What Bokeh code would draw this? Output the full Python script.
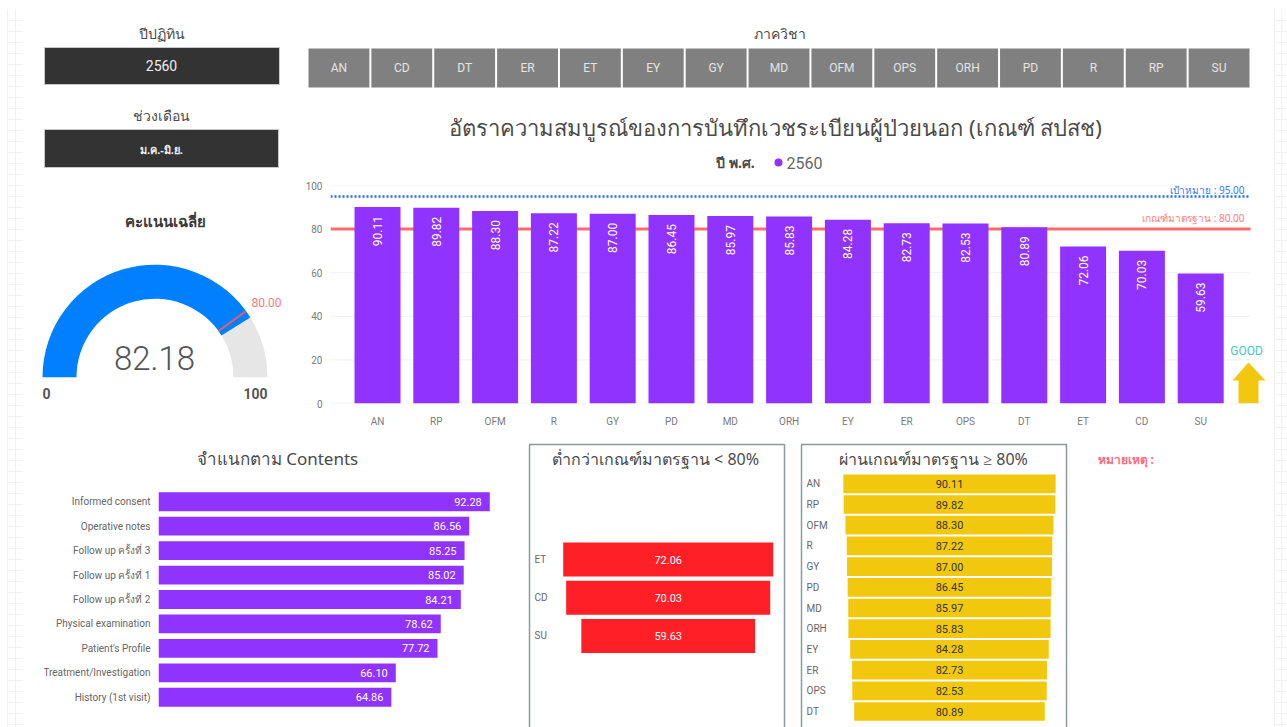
import math
from bokeh.plotting import figure
from bokeh.layouts import row, column
from bokeh.models import Range1d, FixedTicker, FactorRange
from bokeh.core.properties import value
from bokeh.embed import file_html
from bokeh.resources import INLINE

# ---------- data ----------
slicer_items = ["AN", "CD", "DT", "ER", "ET", "EY", "GY", "MD", "OFM", "OPS", "ORH", "PD", "R", "RP", "SU"]
dept_names = ["AN", "RP", "OFM", "R", "GY", "PD", "MD", "ORH", "EY", "ER", "OPS", "DT", "ET", "CD", "SU"]
dept_values = [90.11, 89.82, 88.30, 87.22, 87.00, 86.45, 85.97, 85.83, 84.28, 82.73, 82.53, 80.89, 72.06, 70.03, 59.63]
y_ticks = [0, 20, 40, 60, 80, 100]
target_value = 95.0
standard_value = 80.0
content_names = ["Informed consent", "Operative notes", "Follow up ครั้งที่ 3", "Follow up ครั้งที่ 1",
                 "Follow up ครั้งที่ 2", "Physical examination", "Patient's Profile",
                 "Treatment/Investigation", "History (1st visit)"]
content_values = [92.28, 86.56, 85.25, 85.02, 84.21, 78.62, 77.72, 66.10, 64.86]
below_names = ["ET", "CD", "SU"]
below_values = [72.06, 70.03, 59.63]
above_names = dept_names[:12]
above_values = dept_values[:12]
gauge_value = 82.18
gauge_target = 80.0
gauge_max = 100.0

# ---------- styles ----------
PURPLE = "#9033FF"
RED = "#FF1F26"
GOLD = "#F2C80F"
BLUE = "#0080FF"
LIGHT = "#E6E6E6"
TXT = "#4A4A4A"
TICK = "#7A7A7A"
PINK = "#FF7A7A"
FONT = value("Noto Sans")
NUM = value("Roboto")
PAGE_W, PAGE_H = 1287, 727


def chrome(x0, y0, x1, y1):
    """A figure whose data coordinates are page pixels."""
    p = figure(width=x1 - x0, height=y1 - y0, x_range=Range1d(x0, x1), y_range=Range1d(y1, y0),
               x_axis_type=None, y_axis_type=None, toolbar_location=None, output_backend="svg",
               min_border=0, outline_line_color=None, frame_align=False)
    p.grid.visible = False
    return p


def label(p, x, y, s, size, color=TXT, align="center", style="normal", font=FONT, **kw):
    p.text(x=[x], y=[y], text=[s], text_font=font, text_font_size=f"{size}px", text_color=color,
           text_align=align, text_baseline="middle", text_font_style=style, **kw)


def strip(x0, x1, line_from, line_to, verticals):
    p = chrome(x0, 0, x1, PAGE_H)
    ys = list(range(20, PAGE_H, 11))
    p.multi_line(xs=[[line_from, line_to]] * len(ys), ys=[[y, y] for y in ys], line_color="#F1F1F1", line_width=1)
    p.multi_line(xs=[[v, v] for v in verticals], ys=[[9, PAGE_H]] * len(verticals), line_color="#F1F1F1", line_width=1)
    return p


left_strip = strip(0, 24, 7, 22, [7, 15])
right_strip = strip(1270, PAGE_W, 1274, 1287, [1274, 1281])

# ---------- top band: slicers, title, legend ----------
top = chrome(24, 0, 1270, 176)
label(top, 161, 33, "ปีปฏิทิน", 14)
top.quad(left=[44], right=[279], top=[47], bottom=[84], fill_color="#333333", line_color="#C8C8C8", line_width=1)
label(top, 161, 65, "2560", 14, "#EEEEEE", font=NUM)
label(top, 161, 115, "ช่วงเดือน", 14)
top.quad(left=[44], right=[278], top=[129], bottom=[167], fill_color="#333333", line_color="#C8C8C8", line_width=1)
label(top, 161, 149, "ม.ค.-มิ.ย.", 11, "#EEEEEE", style="bold")
label(top, 779, 33, "ภาควิชา", 14)
pitch = (1251 - 308) / len(slicer_items)
for i, name in enumerate(slicer_items):
    x0 = 308 + i * pitch
    top.quad(left=[x0], right=[x0 + pitch - 2], top=[48], bottom=[87], fill_color="#808080", line_color=None)
    label(top, x0 + (pitch - 2) / 2, 67, name, 12, "#E4E4E4", font=NUM)
label(top, 775, 126, "อัตราความสมบูรณ์ของการบันทึกเวชระเบียนผู้ป่วยนอก (เกณฑ์ สปสช)", 22)
label(top, 735, 162, "ปี พ.ศ.", 14, style="bold")
top.scatter(x=[778], y=[162], size=8, fill_color=PURPLE, line_color=None)
label(top, 786, 162, "2560", 16, "#666666", align="left", font=NUM)

# ---------- gauge ----------
G_CX, G_CY, G_R = 154.5, 376.7, 112.5
gauge = figure(width=276, height=264, x_axis_type=None, y_axis_type=None, toolbar_location=None,
               output_backend="svg", min_border=0, outline_line_color=None, frame_align=False,
               x_range=Range1d((24 - G_CX) / G_R, (300 - G_CX) / G_R),
               y_range=Range1d((G_CY - 440) / G_R, (G_CY - 176) / G_R))
gauge.grid.visible = False


def gx(px):
    return (px - G_CX) / G_R


def gy(py):
    return (G_CY - py) / G_R


def angle(v):
    return math.pi * (1 - v / gauge_max)


INNER = 78.5 / G_R
gauge.annular_wedge(x=[0], y=[0], inner_radius=INNER, outer_radius=1, start_angle=0, end_angle=angle(gauge_value),
                    fill_color=LIGHT, line_color=None)
gauge.annular_wedge(x=[0], y=[0], inner_radius=INNER, outer_radius=1, start_angle=angle(gauge_value),
                    end_angle=math.pi, fill_color=BLUE, line_color=None)
a = angle(gauge_target)
gauge.line(x=[INNER * math.cos(a), math.cos(a)], y=[INNER * math.sin(a), math.sin(a)], line_color="#E0606A", line_width=2)
label(gauge, gx(165), gy(220), "คะแนนเฉลี่ย", 15, "#3A3A3A", style="bold")
label(gauge, gx(154), gy(357), f"{gauge_value:.2f}", 33, "#555555", font=value("Roboto Light"))
label(gauge, gx(266), gy(302), f"{gauge_target:.2f}", 12, PINK, font=NUM)
label(gauge, gx(46), gy(393), "0", 14, "#555555", font=NUM, style="bold")
label(gauge, gx(255), gy(393), f"{gauge_max:.0f}", 14, "#555555", font=NUM, style="bold")

# ---------- main bars ----------
STEP = 58.8
ORIGIN = 377


def mx(px):
    return (px - ORIGIN) / STEP


def my(py):
    return (403 - py) / 2.18


main = figure(width=970, height=264, x_range=Range1d(mx(330), mx(1270)), y_range=Range1d(0, 100),
              toolbar_location=None, output_backend="svg", outline_line_color=None, frame_align=False,
              min_border_left=30, min_border_right=0, min_border_top=9, min_border_bottom=37)
main.grid.visible = False
xs = list(range(len(dept_names)))
main.xaxis.ticker = FixedTicker(ticks=xs)
main.xaxis.major_label_overrides = dict(zip(xs, dept_names))
main.yaxis.ticker = FixedTicker(ticks=y_ticks)
for ax in (main.xaxis, main.yaxis):
    ax.axis_line_color = None
    ax.major_tick_line_color = None
    ax.minor_tick_line_color = None
    ax.major_tick_out = 0
    ax.major_tick_in = 0
    ax.minor_tick_out = 0
    ax.minor_tick_in = 0
    ax.major_label_text_font_size = "10px"
    ax.major_label_text_color = TICK
    ax.major_label_text_font = "Roboto"
main.xaxis.major_label_standoff = 12
main.yaxis.major_label_standoff = 8
main.segment(x0=[mx(330)] * len(y_ticks), x1=[mx(1250)] * len(y_ticks), y0=y_ticks, y1=y_ticks, line_color="#F0F0F0", line_width=1)
main.segment(x0=[mx(330)], x1=[mx(1250)], y0=[standard_value], y1=[standard_value], line_color="#FF6B6B", line_width=3)
main.segment(x0=[mx(330)], x1=[mx(1250)], y0=[target_value], y1=[target_value], line_color="#1F6BFF", line_width=2.5, line_dash="2 2")
main.vbar(x=xs, top=dept_values, width=46 / STEP, fill_color=PURPLE, line_color=None)
main.text(x=xs, y=dept_values, text=[f"{v:.2f}" for v in dept_values], angle=math.pi / 2, y_offset=9,
          text_align="right", text_baseline="middle", text_color="#FFFFFF", text_font=NUM, text_font_size="12px")
label(main, mx(1244), my(189), f"เป้าหมาย : {target_value:.2f}", 10, "#3B78F0", align="right")
label(main, mx(1244), my(217), f"เกณฑ์มาตรฐาน : {standard_value:.2f}", 10, PINK, align="right")
label(main, mx(1246), my(350), "GOOD", 12, "#45C8BE", font=NUM)
main.patch(x=[mx(v) for v in (1248, 1265, 1258, 1258, 1238, 1238, 1232)],
           y=[my(v) for v in (362, 380, 380, 403, 403, 380, 380)], fill_color=GOLD, line_color=None)

# ---------- contents ----------
contents_title = chrome(24, 440, 525, 489)
label(contents_title, 277, 458, "จำแนกตาม Contents", 17)
cont = figure(width=501, height=PAGE_H - 489, x_range=Range1d(0, 367 / 3.59),
              y_range=FactorRange(factors=content_names[::-1], range_padding=0),
              toolbar_location=None, output_backend="svg", outline_line_color=None,
              frame_align=False, min_border_left=134, min_border_right=0, min_border_top=0, min_border_bottom=18)
cont.grid.visible = False
cont.xaxis.visible = False
cont.yaxis.axis_line_color = None
cont.yaxis.major_tick_line_color = None
cont.yaxis.major_tick_out = 0
cont.yaxis.major_tick_in = 0
cont.yaxis.major_label_text_font_size = "10px"
cont.yaxis.major_label_text_color = "#666666"
cont.yaxis.major_label_text_font = "Roboto"
cont.yaxis.major_label_standoff = 8
cont.hbar(y=content_names, left=0, right=content_values, height=0.77, fill_color=PURPLE, line_color=None)
cont.text(x=content_values, y=content_names, text=[f"{v:.2f}" for v in content_values], x_offset=-8,
          text_align="right", text_baseline="middle", text_color="#FFFFFF", text_font=NUM, text_font_size="11px")


# ---------- funnels ----------
def funnel(x0, x1, box_l, box_r, title, tx, names, vals, cx, px_unit, first, step, bar_h, color, vcolor, name_x):
    p = chrome(x0, 440, x1, PAGE_H)
    p.extra_x_ranges["v"] = Range1d((x0 - cx) / px_unit, (x1 - cx) / px_unit)
    p.extra_y_ranges["i"] = Range1d((PAGE_H - first) / step, (440 - first) / step)
    p.line(x=[box_l, box_l, box_r, box_r], y=[PAGE_H, 444, 444, PAGE_H], line_color="#8C9A9C", line_width=1.5)
    label(p, tx, 458, title, 16)
    idx = list(range(len(names)))
    p.hbar(y=idx, left=[-v / 2 for v in vals], right=[v / 2 for v in vals], height=bar_h / step,
           fill_color=color, line_color=None, x_range_name="v", y_range_name="i")
    p.text(x=[0] * len(idx), y=idx, text=[f"{v:.2f}" for v in vals], text_align="center", text_baseline="middle",
           text_color=vcolor, text_font=NUM, text_font_size="11px", x_range_name="v", y_range_name="i")
    p.text(x=[(name_x - cx) / px_unit] * len(idx), y=idx, text=names, text_align="left", text_baseline="middle",
           text_color="#666666", text_font=NUM, text_font_size="10px", x_range_name="v", y_range_name="i")
    return p


low = funnel(525, 790, 529, 784, "ต่ำกว่าเกณฑ์มาตรฐาน < 80%", 655, below_names, below_values,
             667.7, 2.914, 559, 38.2, 34, RED, "#FFFFFF", 534)
high = funnel(790, 1080, 801, 1066, "ผ่านเกณฑ์มาตรฐาน ≥ 80%", 933, above_names, above_values,
              949, 2.356, 483.3, 20.7, 18.7, GOLD, "#333333", 806)
note = chrome(1080, 440, 1270, PAGE_H)
label(note, 1097, 459, "หมายเหตุ :", 12, "#FF6B80", align="left", style="bold")

# ---------- layout ----------
middle = column(top, row(gauge, main), row(column(contents_title, cont), low, high, note))
page = row(left_strip, middle, right_strip)
open("out.html", "w").write(file_html(page, INLINE))
